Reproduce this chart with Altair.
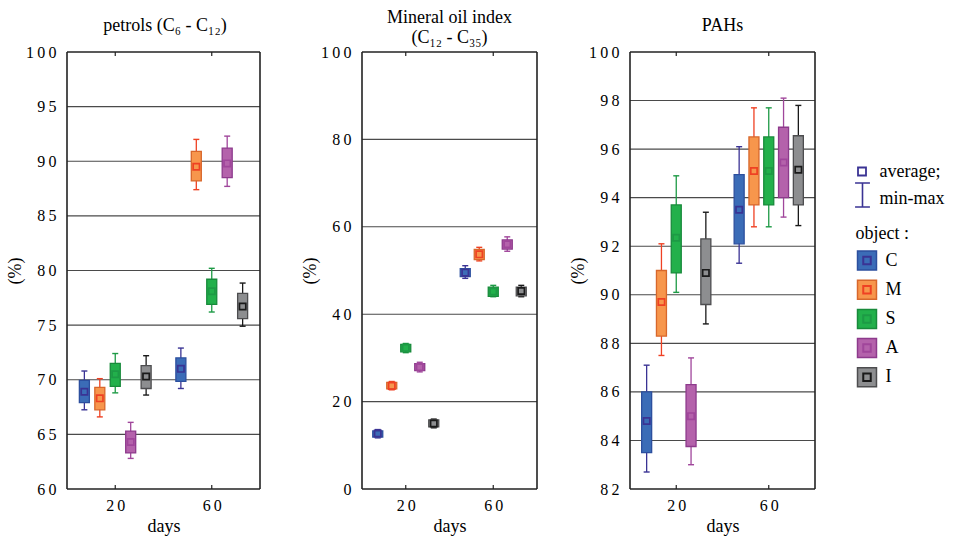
import altair as alt
import pandas as pd

objects = ["C", "M", "S", "A", "I"]
days = [20, 60]

# Each list holds the five objects at day 20, followed by the same five at day 60.
pet_min  = [67.25, 66.6, 68.8, 62.8, 68.6, 69.2, 87.4, 76.2, 87.7, 74.9]
pet_low  = [67.9, 67.25, 69.4, 63.3, 69.2, 69.85, 88.2, 76.9, 88.5, 75.6]
pet_mean = [68.9, 68.3, 70.5, 64.3, 70.3, 71.0, 89.5, 78.1, 89.8, 76.7]
pet_high = [69.95, 69.3, 71.5, 65.3, 71.3, 72.0, 90.9, 79.2, 91.2, 77.9]
pet_max  = [70.8, 70.1, 72.4, 66.1, 72.2, 72.9, 92.0, 80.2, 92.3, 78.85]

oil_min  = [11.7, 22.7, 31.2, 26.8, 14.0, 48.2, 52.2, 44.0, 54.4, 44.0]
oil_low  = [11.9, 22.9, 31.4, 27.1, 14.2, 48.6, 52.5, 44.1, 54.9, 44.2]
oil_mean = [12.7, 23.6, 32.3, 27.9, 15.0, 49.5, 53.7, 45.2, 56.0, 45.3]
oil_high = [13.3, 24.4, 33.1, 28.7, 15.8, 50.4, 54.8, 46.2, 57.0, 46.2]
oil_max  = [13.6, 24.6, 33.3, 29.0, 16.0, 51.1, 55.3, 46.6, 57.7, 46.6]

pah_min  = [82.7, 87.5, 90.1, 83.0, 88.8, 91.3, 92.8, 92.8, 93.2, 92.85]
pah_low  = [83.5, 88.3, 90.9, 83.75, 89.6, 92.1, 93.7, 93.7, 94.0, 93.7]
pah_mean = [84.8, 89.7, 92.35, 85.0, 90.9, 93.5, 95.1, 95.1, 95.45, 95.15]
pah_high = [86.0, 91.0, 93.7, 86.3, 92.3, 94.95, 96.5, 96.5, 96.9, 96.55]
pah_max  = [87.1, 92.1, 94.9, 87.4, 93.4, 96.1, 97.7, 97.7, 98.1, 97.8]

pet_ticks = [60, 65, 70, 75, 80, 85, 90, 95, 100]
oil_ticks = [0, 20, 40, 60, 80, 100]
pah_ticks = [82, 84, 86, 88, 90, 92, 94, 96, 98, 100]

fill_colors = ["#3b6cb7", "#f7964c", "#22b04b", "#b462ab", "#8d8e90"]
edge_colors = ["#2c4f9e", "#d8672b", "#188a3b", "#8d3a8c", "#4d4d4f"]
mark_colors = ["#3a3394", "#ef4123", "#1d9a45", "#a0469b", "#1a1a1a"]

FONT = "Liberation Serif"
TEXT_SIZE = 18
PLOT_H = 437
SLOT = 6.4   # spacing in days between neighbouring boxes of one group
GAP = 83
# digits set slightly apart, as in the typeset labels
SPACED = "join(split(datum.label, ''), '\u2009')"

fill_scale = alt.Scale(domain=objects, range=fill_colors)
edge_scale = alt.Scale(domain=objects, range=edge_colors)
mark_scale = alt.Scale(domain=objects, range=mark_colors)


def build_table(mins, lows, means, highs, maxs):
    rows = []
    for k, day in enumerate(days):
        for i, obj in enumerate(objects):
            j = k * len(objects) + i
            rows.append({"object": obj, "day": day, "pos": day + (i - 2) * SLOT,
                         "min": mins[j], "low": lows[j], "mean": means[j],
                         "high": highs[j], "max": maxs[j]})
    return pd.DataFrame(rows)


def panel(df, ydom, yticks, title, plot_w, view_w, title_dx=0):
    xs = alt.Scale(domain=[0, 80], range=[0, plot_w], nice=False, zero=False)
    ys = alt.Scale(domain=ydom, nice=False, zero=False)
    x_axis = alt.Axis(values=days, title="days", grid=False, domain=False, ticks=False,
                      labelPadding=8, titlePadding=4, labelFlush=False, labelExpr=SPACED)
    y_axis = alt.Axis(values=yticks, title="(%)", grid=False, domain=False, ticks=False,
                      labelPadding=6, titlePadding=1, labelFlush=False, labelExpr=SPACED)
    colour = alt.Color("object:N", scale=mark_scale, legend=None)

    def X(field):
        return alt.X(field, scale=xs, axis=x_axis)

    def Y(field):
        return alt.Y(field, scale=ys, axis=y_axis)

    grid = alt.Chart(pd.DataFrame({"v": yticks[1:-1], "a": 0, "b": 80})).mark_rule(
        color="#4a4a4a", strokeWidth=1.1).encode(y=Y("v:Q"), x=X("a:Q"), x2="b:Q")

    base = alt.Chart(df)
    whisk = base.mark_rule(strokeWidth=1.3).encode(
        x=X("pos:Q"), y=Y("min:Q"), y2="max:Q", color=colour)
    cap_lo = base.mark_tick(orient="horizontal", size=6, thickness=1.4, opacity=1).encode(
        x=X("pos:Q"), y=Y("min:Q"), color=colour)
    cap_hi = base.mark_tick(orient="horizontal", size=6, thickness=1.4, opacity=1).encode(
        x=X("pos:Q"), y=Y("max:Q"), color=colour)
    box = base.mark_bar(size=10, strokeWidth=1.3).encode(
        x=X("pos:Q"), y=Y("low:Q"), y2="high:Q",
        fill=alt.Fill("object:N", scale=fill_scale, legend=None),
        stroke=alt.Stroke("object:N", scale=edge_scale, legend=None))
    mean = base.mark_point(shape="square", filled=False, size=40, strokeWidth=1.7, opacity=1).encode(
        x=X("pos:Q"), y=Y("mean:Q"), color=colour)

    frame_v = alt.Chart(pd.DataFrame({"edge": [0, 80], "lo": ydom[0], "hi": ydom[1]})).mark_rule(
        color="#222", strokeWidth=1.6).encode(x=X("edge:Q"), y=Y("lo:Q"), y2="hi:Q")
    frame_h = alt.Chart(pd.DataFrame({"v": ydom, "a": 0, "b": 80})).mark_rule(
        color="#222", strokeWidth=1.6).encode(y=Y("v:Q"), x=X("a:Q"), x2="b:Q")
    tick_df = pd.DataFrame({"d": days})
    tick_bot = alt.Chart(tick_df).mark_rule(color="#222", strokeWidth=1.2).encode(
        x=X("d:Q"), y=alt.value(PLOT_H), y2=alt.value(PLOT_H - 4))
    tick_top = alt.Chart(tick_df).mark_rule(color="#222", strokeWidth=1.2).encode(
        x=X("d:Q"), y=alt.value(0), y2=alt.value(4))

    lines = title if isinstance(title, list) else [title]
    offset = -3 if len(lines) > 1 else 9
    return alt.layer(grid, whisk, cap_lo, cap_hi, box, mean, frame_v, frame_h, tick_bot, tick_top).properties(
        width=view_w, height=PLOT_H,
        title=alt.TitleParams(text=title, font=FONT, fontSize=TEXT_SIZE, fontWeight="normal",
                              color="#000", anchor="middle", offset=offset, lineHeight=20,
                              dx=title_dx))


p1 = panel(build_table(pet_min, pet_low, pet_mean, pet_high, pet_max),
           [60, 100], pet_ticks, "petrols (C\u2086 - C\u2081\u2082)", 203, 212, title_dx=-3)
p2 = panel(build_table(oil_min, oil_low, oil_mean, oil_high, oil_max),
           [0, 100], oil_ticks, ["Mineral oil index", "(C\u2081\u2082 - C\u2083\u2085)"], 185, 185)
p3 = panel(build_table(pah_min, pah_low, pah_mean, pah_high, pah_max),
           [82, 100], pah_ticks, "PAHs", 195, 195)

# Key panel: symbol meanings and object colours
row_y = alt.Scale(domain=[0, PLOT_H], range=[0, PLOT_H])
obj_rows = pd.DataFrame({"object": objects, "row": [208.5 + 29.2 * i for i in range(len(objects))]})
head_rows = pd.DataFrame({"label": ["average;", "min-max"], "row": [120, 147]})

key_square = alt.Chart(pd.DataFrame({"row": [119.5]})).mark_point(
    shape="square", filled=False, size=64, strokeWidth=1.8, color="#3a3394", opacity=1).encode(
    x=alt.value(-41), y=alt.Y("row:Q", scale=row_y, axis=None))
key_bar = alt.Chart(pd.DataFrame({"row": [143]})).mark_point(
    shape="M-0.62,-1H0.62M0,-1V1M-0.62,1H0.62", filled=False, size=576, strokeWidth=1.6,
    color="#3a3394", opacity=1).encode(
    x=alt.value(-40.5), y=alt.Y("row:Q", scale=row_y, axis=None))
key_head = alt.Chart(head_rows).mark_text(
    font=FONT, fontSize=TEXT_SIZE, align="left", baseline="middle", color="#000").encode(
    x=alt.value(-23.5), y=alt.Y("row:Q", scale=row_y, axis=None), text="label:N")
key_obj = alt.Chart(pd.DataFrame({"label": ["object :"], "row": [182]})).mark_text(
    font=FONT, fontSize=TEXT_SIZE, align="left", baseline="middle", color="#000").encode(
    x=alt.value(-47.5), y=alt.Y("row:Q", scale=row_y, axis=None), text="label:N")
key_fill = alt.Chart(obj_rows).mark_point(
    shape="square", filled=True, size=360, strokeWidth=1.5, opacity=1).encode(
    x=alt.value(-36), y=alt.Y("row:Q", scale=row_y, axis=None),
    fill=alt.Fill("object:N", scale=fill_scale, legend=None),
    stroke=alt.Stroke("object:N", scale=edge_scale, legend=None))
key_inner = alt.Chart(obj_rows).mark_point(
    shape="square", filled=False, size=56, strokeWidth=2, opacity=1).encode(
    x=alt.value(-36), y=alt.Y("row:Q", scale=row_y, axis=None),
    color=alt.Color("object:N", scale=mark_scale, legend=None))
key_text = alt.Chart(obj_rows).mark_text(
    font=FONT, fontSize=TEXT_SIZE, align="left", baseline="middle", color="#000").encode(
    x=alt.value(-17.5), y=alt.Y("row:Q", scale=row_y, axis=None), text="object:N")
key = alt.layer(key_square, key_bar, key_head, key_obj, key_fill, key_inner, key_text).properties(
    width=1, height=PLOT_H)

chart = alt.hconcat(p1, p2, p3, key, spacing=GAP, bounds="flush").configure_view(
    stroke="transparent").configure_axis(
    labelFont=FONT, titleFont=FONT, labelFontSize=16, titleFontSize=TEXT_SIZE,
    titleFontWeight="normal", labelColor="#000", titleColor="#000").properties(
    padding={"left": 6, "top": 8, "right": 5, "bottom": 5}, background="white")

chart.save("out.html", embed_options={"renderer": "svg", "actions": False})
